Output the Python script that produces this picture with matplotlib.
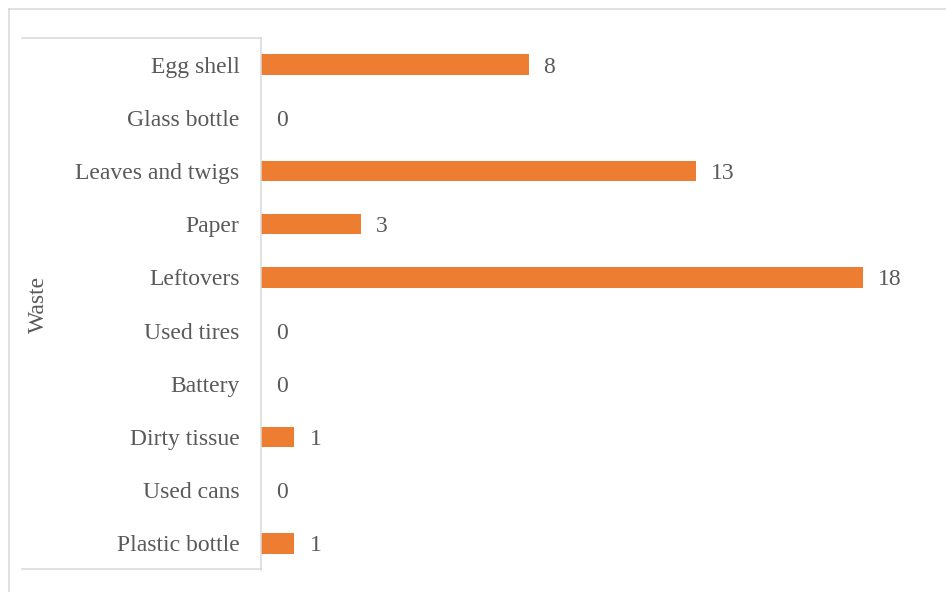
import matplotlib
matplotlib.use("Agg")
import matplotlib.pyplot as plt
from matplotlib.lines import Line2D

categories = ["Egg shell", "Glass bottle", "Leaves and twigs", "Paper", "Leftovers",
              "Used tires", "Battery", "Dirty tissue", "Used cans", "Plastic bottle"]
values = [8, 0, 13, 3, 18, 0, 0, 1, 0, 1]
axis_title = "Waste"

W, H = 946, 592
DPI = 100
BAR = "#ED7D31"
TXT = "#595959"
GRID = "#D9D9D9"

plt.rcParams['font.family'] = ['Liberation Serif', 'DejaVu Serif']

fig = plt.figure(figsize=(W / DPI, H / DPI), dpi=DPI)

def fx(px):
    return px / W

def fy(py):
    return 1 - py / H

ax_left, ax_right, ax_top, ax_bottom = 261, 930, 38, 570
ax = fig.add_axes([fx(ax_left), fy(ax_bottom), fx(ax_right - ax_left), (ax_bottom - ax_top) / H])

ypos = list(range(len(categories)))
ax.barh(ypos, values, height=0.38, color=BAR)
ax.set_xlim(0, 20)
ax.set_ylim(len(categories) - 0.5, -0.5)
ax.set_yticks(ypos)
ax.set_yticklabels(categories, fontsize=17, color=TXT)
ax.tick_params(axis='y', length=0, pad=15.5)
ax.set_xticks([])
for s in ["top", "right", "bottom"]:
    ax.spines[s].set_visible(False)
ax.spines["left"].set_color(GRID)
ax.spines["left"].set_linewidth(1.1)

for y, v in zip(ypos, values):
    ax.annotate(str(v), xy=(v, y), xytext=(15, 0), textcoords="offset pixels",
                ha="left", va="center_baseline", fontsize=17, color=TXT)

fig.text(fx(38), fy(304), axis_title, rotation=90, ha="center", va="center",
         fontsize=17, color=TXT)

lines = [
    ((9, 9), (9, H)),        # outer left border
    ((9, W), (9, 9)),        # outer top border
    ((22, 261), (38, 38)),   # inner box top
    ((22, 261), (569, 569)), # inner box bottom
]
for xs, ys in lines:
    fig.add_artist(Line2D([fx(x) for x in xs], [fy(y) for y in ys],
                          transform=fig.transFigure, color=GRID, linewidth=1.1))

fig.savefig("out.png", dpi=DPI)
